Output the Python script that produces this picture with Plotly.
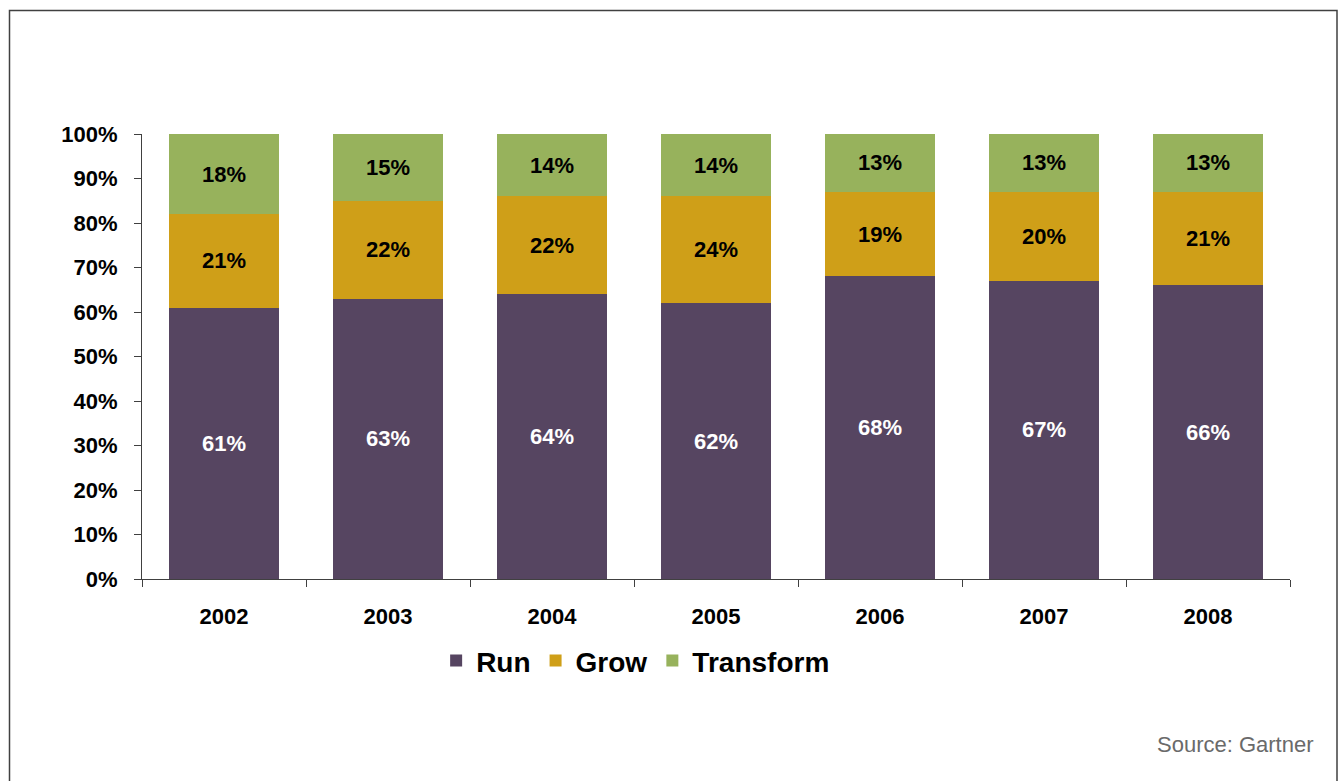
import plotly.graph_objects as go

years = ["2002", "2003", "2004", "2005", "2006", "2007", "2008"]
run = [61, 63, 64, 62, 68, 67, 66]
grow = [21, 22, 22, 24, 19, 20, 21]
transform = [18, 15, 14, 14, 13, 13, 13]
y_ticks = [0, 10, 20, 30, 40, 50, 60, 70, 80, 90, 100]

FONT = "Liberation Sans, Arial, sans-serif"

series = [
    ("Run", run, "#564561", "white"),
    ("Grow", grow, "#cf9f18", "black"),
    ("Transform", transform, "#97b25c", "black"),
]

fig = go.Figure()
for name, vals, col, tcol in series:
    fig.add_trace(go.Bar(
        name=name, x=years, y=[v / 100 for v in vals],
        marker=dict(color=col, line=dict(width=0)),
        text=[f"{v}%" for v in vals],
        textposition="inside", insidetextanchor="middle",
        textfont=dict(family=FONT, size=22, color=tcol, weight="bold"),
        width=0.67,
    ))

fig.update_layout(
    barmode="stack",
    width=1343, height=781,
    margin=dict(l=142, r=53, t=134, b=202),
    paper_bgcolor="white", plot_bgcolor="white",
    font=dict(family=FONT, color="black"),
    showlegend=True,
    legend=dict(orientation="h", x=0.43, xanchor="center", y=-0.184, yanchor="middle",
                font=dict(family=FONT, size=28, weight="bold", color="black"),
                itemwidth=30, traceorder="normal"),
    xaxis=dict(showline=True, linecolor="#404040", linewidth=1, ticks="outside",
               tickson="boundaries", ticklen=7, tickcolor="#404040",
               ticklabelstandoff=18,
               tickfont=dict(family=FONT, size=22, weight="bold"), showgrid=False),
    yaxis=dict(range=[0, 1], tickvals=[t / 100 for t in y_ticks],
               ticktext=[f"{t}%" for t in y_ticks],
               showline=True, linecolor="#404040", linewidth=1, ticks="outside",
               ticklen=7, tickcolor="#404040", showgrid=False, zeroline=False,
               ticklabelstandoff=12,
               tickfont=dict(family=FONT, size=22, weight="bold")),
    shapes=[dict(type="rect", xref="paper", yref="paper",
                 x0=(9.5 - 142) / 1148, x1=(1337 - 142) / 1148,
                 y0=(579 - 800) / 445, y1=(579 - 10.5) / 445,
                 line=dict(color="#404040", width=1.5), layer="below")],
    annotations=[dict(text="Source: Gartner", xref="paper", yref="paper",
                      x=(1316 - 142) / 1148, y=(579 - 744) / 445,
                      xanchor="right", yanchor="middle", showarrow=False,
                      font=dict(family=FONT, size=22, color="#6a6a6a"))],
)

fig.write_html("out.html")
